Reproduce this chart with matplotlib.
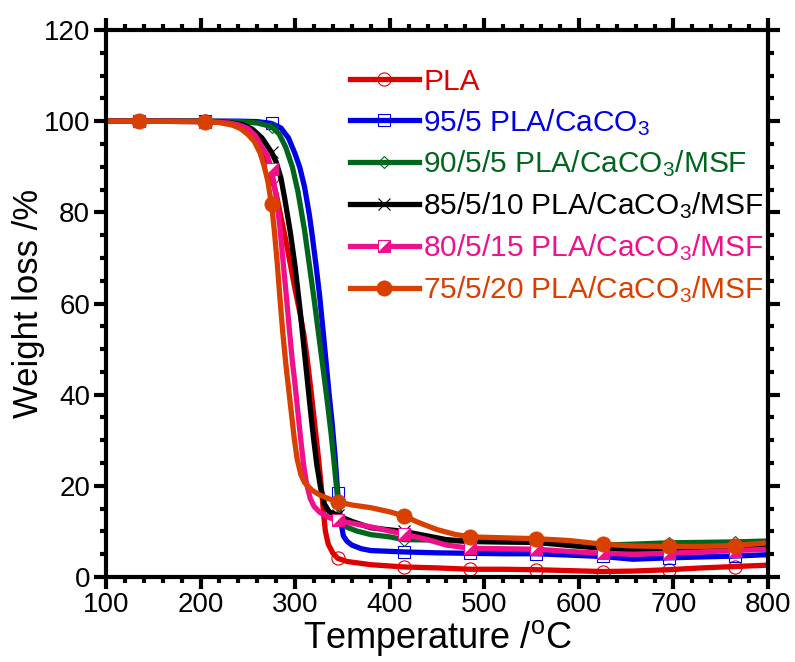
import matplotlib
matplotlib.use("Agg")
import matplotlib.pyplot as plt
import numpy as np
from matplotlib.markers import MarkerStyle
from matplotlib.ticker import MultipleLocator
from matplotlib.transforms import Affine2D

plt.rcParams["font.family"] = ["Liberation Sans", "DejaVu Sans"]
plt.rcParams["mathtext.fontset"] = "custom"
plt.rcParams["mathtext.rm"] = "Liberation Sans"
plt.rcParams["mathtext.it"] = "Liberation Sans:italic"
plt.rcParams["mathtext.bf"] = "Liberation Sans:bold"

# TGA curves, temperature in degC and remaining weight in %
marker_temps = [135, 205, 275, 345, 415, 485, 555, 625, 695, 765]

pla_t = [100, 135, 205, 230, 245, 255, 262, 268, 275, 280, 285, 290, 295, 300, 305, 309, 313, 317,
         321, 325, 328, 330, 332, 335, 340, 345, 355, 380, 415, 450, 485, 520, 555, 590, 625, 657,
         695, 730, 765, 800]
pla_w = [100.0, 100.0, 100.0, 99.6, 98.7, 96.8, 94.3, 91.5, 87.8, 84.0, 79.0, 74.0, 68.5, 63.0, 58.0,
         53.5, 47.5, 40.5, 33.0, 25.5, 19.0, 14.0, 10.0, 7.2, 5.2, 4.1, 3.4, 2.7, 2.2, 2.0, 1.7, 1.7,
         1.6, 1.4, 1.2, 1.3, 1.6, 2.0, 2.3, 2.6]

caco3_t = [100, 135, 205, 240, 260, 275, 285, 293, 300, 305, 310, 315, 318, 322, 326, 330, 333, 336,
           339, 342, 345, 348, 351, 355, 360, 370, 380, 415, 450, 485, 520, 555, 590, 625, 657, 695,
           730, 765, 800]
caco3_w = [100.0, 100.0, 100.0, 100.0, 99.9, 99.5, 98.5, 96.3, 92.8, 89.8, 85.5, 79.5, 75.0, 68.5,
           61.5, 53.0, 46.5, 40.0, 34.0, 27.0, 18.5, 12.5, 9.0, 7.8, 7.0, 6.2, 5.8, 5.5, 5.3, 5.2,
           5.1, 5.1, 4.8, 4.5, 3.9, 4.2, 4.4, 4.6, 4.9]

msf5_t = [100, 135, 205, 240, 260, 275, 283, 290, 297, 303, 310, 315, 320, 325, 330, 334, 338, 341,
          345, 347, 350, 355, 365, 380, 400, 415, 450, 485, 520, 555, 590, 625, 657, 695, 730, 765,
          800]
msf5_w = [100.0, 100.0, 100.0, 99.9, 99.6, 98.8, 97.2, 94.3, 90.0, 84.5, 76.0, 68.5, 61.0, 53.0,
          45.0, 38.5, 31.5, 25.5, 17.0, 13.5, 11.8, 10.9, 10.1, 9.3, 8.8, 8.2, 8.1, 7.8, 7.7, 7.6,
          7.3, 7.0, 7.2, 7.5, 7.6, 7.7, 7.9]

msf10_t = [100, 135, 205, 230, 245, 255, 265, 275, 280, 285, 289, 295, 300, 305, 309, 313, 317, 320,
           323, 327, 331, 336, 345, 360, 380, 415, 440, 460, 485, 520, 555, 590, 625, 657, 695, 730,
           765, 800]
msf10_w = [100.0, 100.0, 99.9, 99.7, 99.2, 98.2, 96.3, 93.2, 91.0, 87.5, 83.0, 75.5, 68.0, 59.0,
           51.0, 43.0, 35.0, 29.5, 24.5, 19.5, 16.0, 14.3, 13.5, 12.2, 10.8, 10.0, 9.0, 8.2, 7.8,
           7.7, 7.6, 6.9, 6.3, 5.9, 5.9, 6.1, 6.3, 6.5]

msf15_t = [100, 135, 205, 230, 240, 250, 258, 265, 270, 275, 280, 284, 288, 291, 294, 297, 300, 303,
           306, 309, 312, 316, 320, 326, 335, 345, 360, 380, 415, 440, 460, 485, 520, 555, 590, 625,
           657, 695, 730, 765, 800]
msf15_w = [100.0, 100.0, 99.9, 99.6, 99.2, 98.4, 96.8, 94.2, 92.8, 89.5, 83.5, 76.5, 67.5, 61.0,
           54.0, 47.5, 42.0, 36.0, 30.0, 24.5, 20.5, 17.2, 15.5, 14.2, 13.1, 12.4, 11.8, 11.0, 9.4,
           8.2, 7.0, 6.3, 6.2, 6.1, 5.6, 5.2, 5.0, 5.2, 5.5, 5.8, 6.1]

msf20_t = [100, 135, 205, 220, 234, 242, 250, 257, 263, 267, 271, 275, 278, 281, 284, 287, 290, 293,
           296, 299, 302, 306, 310, 318, 326, 335, 345, 360, 380, 400, 415, 430, 450, 470, 485, 520,
           555, 590, 625, 657, 695, 730, 765, 800]
msf20_w = [100.0, 100.0, 99.9, 99.7, 99.1, 98.4, 97.1, 95.5, 93.0, 90.3, 87.0, 81.8, 76.0, 69.0,
           61.0, 53.5, 47.0, 41.5, 36.0, 30.5, 26.0, 22.5, 20.7, 19.0, 18.0, 17.2, 16.5, 15.8, 15.2,
           14.3, 13.4, 12.0, 10.4, 9.3, 8.8, 8.6, 8.4, 8.0, 7.2, 6.8, 6.7, 6.7, 6.9, 7.5]

labels = [
    "PLA",
    "95/5 PLA/CaCO$_3$",
    "90/5/5 PLA/CaCO$_3$/MSF",
    "85/5/10 PLA/CaCO$_3$/MSF",
    "80/5/15 PLA/CaCO$_3$/MSF",
    "75/5/20 PLA/CaCO$_3$/MSF",
]
colors = ["#e00000", "#0000e6", "#00661e", "#000000", "#f0108c", "#d94000"]

# square split along the diagonal: lower-right filled, upper-left white
half_square = MarkerStyle("D", fillstyle="bottom", transform=Affine2D().rotate_deg(45))

styles = [
    dict(marker="o", ms=9.5, mfc="none", mew=0.8),
    dict(marker="s", ms=8.5, mfc="none", mew=0.8),
    dict(marker="D", ms=6.2, mfc="none", mew=0.8),
    dict(marker="x", ms=9.0, mew=0.8),
    dict(marker=half_square, ms=8.5, mfcalt="white", mew=0.8),
    dict(marker="o", ms=11.0, mew=0.5),
]

series = [
    (pla_t, pla_w),
    (caco3_t, caco3_w),
    (msf5_t, msf5_w),
    (msf10_t, msf10_w),
    (msf15_t, msf15_w),
    (msf20_t, msf20_w),
]

fig = plt.figure(figsize=(7.95, 6.62), dpi=100)
ax = fig.add_axes([106 / 795, 85 / 662, 662 / 795, 547 / 662])

for (t, w), lab, col, st in zip(series, labels, colors, styles):
    t = np.asarray(t)
    mark = np.isin(t, marker_temps)
    kw = dict(st)
    kw.setdefault("mfc", col)
    ax.plot(t, w, color=col, lw=3.8, label=lab, markevery=mark, mec=col, **kw)

ax.set_xlim(100, 800)
ax.set_ylim(0, 120)
ax.xaxis.set_major_locator(MultipleLocator(100))
ax.xaxis.set_minor_locator(MultipleLocator(20))
ax.yaxis.set_major_locator(MultipleLocator(20))
ax.yaxis.set_minor_locator(MultipleLocator(5))

for sp in ax.spines.values():
    sp.set_linewidth(3)
ax.tick_params(which="both", direction="out", top=True, right=True, width=3,
               labelsize=20, colors="black")
ax.tick_params(which="major", length=8.5)
ax.tick_params(which="minor", length=4.5)
ax.tick_params(axis="x", pad=2)
ax.tick_params(axis="y", pad=3)

ax.set_xlabel("Temperature /$^\\mathrm{o}$C", fontsize=26, labelpad=0)
ax.set_ylabel("Weight loss /%", fontsize=25)
ax.yaxis.set_label_coords(-0.092, 0.5)

leg = ax.legend(loc="upper left", bbox_to_anchor=(0.3686, 0.931), frameon=False,
                fontsize=21.5, handlelength=2.3, handletextpad=0.15, labelspacing=0.37,
                borderpad=0, borderaxespad=0, numpoints=1, labelcolor="linecolor")

fig.savefig("out.png", dpi=100)
